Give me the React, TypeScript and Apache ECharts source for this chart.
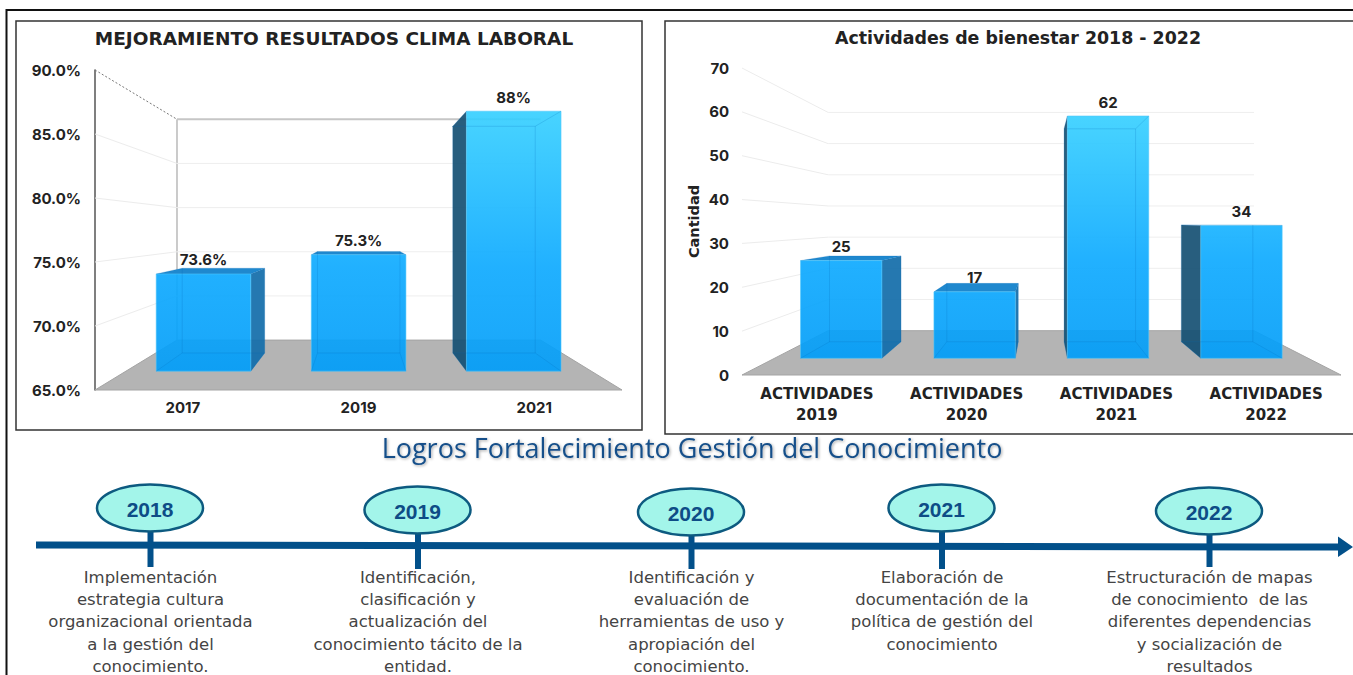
import React, { useEffect, useRef } from "react";
import * as echarts from "echarts";

const climaYears = ["2017", "2019", "2021"];
const climaValues = [73.6, 75.3, 88];
const climaLabels = ["73.6%", "75.3%", "88%"];
const climaTicks = [65, 70, 75, 80, 85, 90];
const climaTitle = "MEJORAMIENTO RESULTADOS CLIMA LABORAL";

const bienestarCats = ["ACTIVIDADES\n2019", "ACTIVIDADES\n2020", "ACTIVIDADES\n2021", "ACTIVIDADES\n2022"];
const bienestarValues = [25, 17, 62, 34];
const bienestarTicks = [0, 10, 20, 30, 40, 50, 60, 70];
const bienestarTitle = "Actividades de bienestar 2018 - 2022";
const bienestarAxisName = "Cantidad";

const logrosTitle = "Logros Fortalecimiento Gestión del Conocimiento";
const logrosYears = ["2018", "2019", "2020", "2021", "2022"];
const logrosTexts = [
  ["Implementación", "estrategia cultura", "organizacional orientada", "a la gestión del", "conocimiento."],
  ["Identificación,", "clasificación y", "actualización del", "conocimiento tácito de la", "entidad."],
  ["Identificación y", "evaluación de", "herramientas de uso y", "apropiación del", "conocimiento."],
  ["Elaboración de", "documentación de la", "política de gestión del", "conocimiento"],
  ["Estructuración de mapas", "de conocimiento  de las", "diferentes dependencias", "y socialización de", "resultados"],
];

const FONT = "Inter, 'Noto Sans', sans-serif";
const WIDE = "'DejaVu Sans', sans-serif";
const BODY = "'DejaVu Sans', sans-serif";
const INK = "#222222";

type Scene = {
  left: number; top: number; width: number; height: number;
  vx: number; vy: number; back: number; front: number; rear: number;
  barRatio: number; wallEdge: boolean; gradTop: number; gradBottom: number;
};

const climaScene: Scene = {
  left: 95, top: 70, width: 527, height: 320, vx: 359.5, vy: 229,
  back: 0.69, front: 0.883, rear: 0.77, barRatio: 0.61, wallEdge: true, gradTop: 111, gradBottom: 371,
};
const bienestarScene: Scene = {
  left: 742, top: 68, width: 599, height: 307, vx: 1040, vy: 221.7,
  back: 0.711, front: 0.891, rear: 0.783, barRatio: 0.61, wallEdge: false, gradTop: 116, gradBottom: 358,
};

function project(sc: Scene, x: number, y: number, s: number) {
  return [sc.vx + (x - sc.vx) * s, sc.vy + (y - sc.vy) * s];
}

function frameRenderer(sc: Scene, ticks: number[]) {
  return (_p: any, api: any) => {
    const tick = api.value(0);
    const y = api.coord([0, tick])[1];
    const xL = sc.left;
    const xR = sc.left + sc.width;
    const a = [xL, y];
    const b = project(sc, xL, y, sc.back);
    const c = project(sc, xR, y, sc.back);
    const children: any[] = [];
    const isTop = tick === ticks[ticks.length - 1];
    const isBottom = tick === ticks[0];
    if (isBottom) {
      const d = project(sc, xR, y, 1);
      children.push({
        type: "polygon",
        shape: { points: [a, d, c, b] },
        style: { fill: "#b4b4b4", stroke: "#a4a4a4", lineWidth: 1 },
      });
      if (sc.wallEdge) {
        const t = project(sc, xL, sc.top, sc.back);
        children.push({
          type: "line",
          shape: { x1: b[0], y1: b[1], x2: t[0], y2: t[1] },
          style: { stroke: "#b9b9b9", lineWidth: 1.5 },
        });
      }
    } else {
      const strong = isTop && sc.wallEdge;
      children.push({
        type: "line",
        shape: { x1: a[0], y1: a[1], x2: b[0], y2: b[1] },
        style: strong
          ? { stroke: "#777777", lineWidth: 1, lineDash: [2, 2] }
          : { stroke: "#ececec", lineWidth: 1 },
      });
      children.push({
        type: "line",
        shape: { x1: b[0], y1: b[1], x2: c[0], y2: c[1] },
        style: strong ? { stroke: "#c6c6c6", lineWidth: 2 } : { stroke: "#eeeeee", lineWidth: 1 },
      });
    }
    return { type: "group", children };
  };
}

function barRenderer(sc: Scene, labels: string[]) {
  return (p: any, api: any) => {
    const cat = api.value(0);
    const val = api.value(1);
    const [cx, yTop] = api.coord([cat, val]);
    const yBase = sc.top + sc.height;
    const half = (api.size([1, 0])[0] * sc.barRatio) / 2;
    const xl = cx - half;
    const xr = cx + half;
    const fTL = project(sc, xl, yTop, sc.front);
    const fTR = project(sc, xr, yTop, sc.front);
    const fBL = project(sc, xl, yBase, sc.front);
    const fBR = project(sc, xr, yBase, sc.front);
    const rTL = project(sc, xl, yTop, sc.rear);
    const rTR = project(sc, xr, yTop, sc.rear);
    const rBL = project(sc, xl, yBase, sc.rear);
    const rBR = project(sc, xr, yBase, sc.rear);
    const edge = { stroke: "rgba(0,105,185,0.2)", lineWidth: 1, fill: "none" };
    const children: any[] = [];
    children.push({ type: "polygon", shape: { points: [fBL, fBR, rBR, rBL] }, style: { fill: "rgba(0,140,230,0.25)" } });
    if (rTL[0] < fTL[0] - 1) {
      children.push({
        type: "polygon",
        shape: { points: [rTL, fTL, fBL, rBL] },
        style: { fill: "rgba(22,80,115,0.92)" },
      });
    }
    if (rTR[0] > fTR[0] + 1) {
      children.push({
        type: "polygon",
        shape: { points: [fTR, rTR, rBR, fBR] },
        style: { fill: "rgba(20,110,170,0.93)" },
      });
    }
    if (rTL[1] < fTL[1] - 0.5) {
      children.push({
        type: "polygon",
        shape: { points: [rTL, rTR, fTR, fTL] },
        style: { fill: "#1f88ce" },
      });
    }
    const grad = new echarts.graphic.LinearGradient(
      0, sc.gradTop, 0, sc.gradBottom,
      [
        { offset: 0, color: "rgba(56,208,255,0.92)" },
        { offset: 0.6, color: "rgba(14,170,255,0.92)" },
        { offset: 1, color: "rgba(4,158,248,0.92)" },
      ],
      true
    );
    children.push({
      type: "polygon",
      shape: { points: [fTL, fTR, fBR, fBL] },
      style: { fill: grad, stroke: "rgba(80,200,250,0.7)", lineWidth: 0.8 },
    });
    children.push({ type: "polygon", shape: { points: [rTL, rTR, rBR, rBL] }, style: edge });
    children.push({ type: "line", shape: { x1: fTL[0], y1: fTL[1], x2: rTL[0], y2: rTL[1] }, style: edge });
    children.push({ type: "line", shape: { x1: fTR[0], y1: fTR[1], x2: rTR[0], y2: rTR[1] }, style: edge });
    children.push({ type: "line", shape: { x1: fBL[0], y1: fBL[1], x2: rBL[0], y2: rBL[1] }, style: edge });
    children.push({ type: "line", shape: { x1: fBR[0], y1: fBR[1], x2: rBR[0], y2: rBR[1] }, style: edge });
    children.push({
      type: "text",
      style: {
        text: labels[p.dataIndex],
        x: (fTL[0] + fTR[0]) / 2,
        y: fTL[1] - 14,
        align: "center",
        verticalAlign: "middle",
        fill: INK,
        fontFamily: FONT,
        fontWeight: 700,
        fontSize: 15,
      },
    });
    return { type: "group", children };
  };
}

function timelineGraphics() {
  const centers = [150.5, 418, 691.5, 942, 1209.5];
  const ovalY = [508, 510, 512, 508, 511];
  const stemEnd = [567, 569, 569, 569, 567];
  const out: any[] = [
    {
      type: "polygon",
      shape: { points: [[36, 541.5], [1338, 543.5], [1338, 536.5], [1353, 547], [1338, 557], [1338, 550.5], [36, 548.5]] },
      style: { fill: "#02508a" },
    },
  ];
  logrosYears.forEach((yr, i) => {
    out.push({
      type: "rect",
      shape: { x: centers[i] - 3, y: ovalY[i] + 22, width: 6, height: stemEnd[i] - ovalY[i] - 22 },
      style: { fill: "#02508a" },
    });
    out.push({
      type: "ellipse",
      shape: { cx: centers[i] - 0.5, cy: ovalY[i], rx: 53, ry: 23.5 },
      style: { fill: "#a3f5ea", stroke: "#0d5a80", lineWidth: 2.5 },
    });
    out.push({
      type: "text",
      style: {
        text: yr,
        x: centers[i] - 0.5,
        y: ovalY[i] + 1,
        align: "center",
        verticalAlign: "middle",
        fill: "#0e4c86",
        fontFamily: "'Liberation Sans', Arial, sans-serif",
        fontWeight: 700,
        fontSize: 21,
      },
    });
    logrosTexts[i].forEach((line, j) => {
      out.push({
        type: "text",
        style: {
          text: line,
          x: centers[i],
          y: 577.5 + j * 22.2,
          align: "center",
          verticalAlign: "middle",
          fill: "#444444",
          fontFamily: BODY,
          fontSize: 16.5,
        },
      });
    });
  });
  return out;
}

export default function App() {
  const ref = useRef<HTMLDivElement>(null);
  useEffect(() => {
    document.body.style.margin = "0";
    document.body.style.background = "#ffffff";
    const chart = echarts.init(ref.current!, null, { renderer: "svg" });
    const axisLabel = { color: INK, fontFamily: FONT, fontWeight: 700, fontSize: 15 };
    const grid = (s: Scene) => ({ left: s.left, top: s.top, width: s.width, height: s.height });
    chart.setOption({
      animation: false,
      backgroundColor: "#ffffff",
      title: [
        {
          text: climaTitle, left: 329, top: 24, textAlign: "center",
          textStyle: { color: INK, fontFamily: WIDE, fontWeight: 700, fontSize: 18.5 },
        },
        {
          text: bienestarTitle, left: 1013, top: 24, textAlign: "center",
          textStyle: { color: INK, fontFamily: WIDE, fontWeight: 700, fontSize: 17.4 },
        },
      ],
      grid: [grid(climaScene), grid(bienestarScene)],
      xAxis: [
        {
          type: "category", gridIndex: 0, data: climaYears,
          axisLine: { show: false }, axisTick: { show: false },
          axisLabel: { ...axisLabel, margin: 10 },
        },
        {
          type: "category", gridIndex: 1, data: bienestarCats,
          axisLine: { show: false }, axisTick: { show: false },
          axisLabel: { ...axisLabel, fontFamily: WIDE, margin: 8, lineHeight: 21 },
        },
      ],
      yAxis: [
        {
          type: "value", gridIndex: 0, min: 65, max: 90, interval: 5,
          axisLine: { show: true, lineStyle: { color: "#555555", width: 1.5 } },
          axisTick: { show: false }, splitLine: { show: false },
          axisLabel: { ...axisLabel, margin: 14, formatter: (v: number) => v.toFixed(1) + "%" },
        },
        {
          type: "value", gridIndex: 1, min: 0, max: 70, interval: 10,
          name: bienestarAxisName, nameLocation: "middle", nameRotate: 90, nameGap: 41,
          nameTextStyle: { color: INK, fontFamily: WIDE, fontWeight: 700, fontSize: 14.5 },
          axisLine: { show: false }, axisTick: { show: false }, splitLine: { show: false },
          axisLabel: { ...axisLabel, margin: 13 },
        },
      ],
      series: [
        {
          type: "custom", xAxisIndex: 0, yAxisIndex: 0, z: 1, silent: true,
          renderItem: frameRenderer(climaScene, climaTicks),
          encode: { y: 0 },
          data: climaTicks.map((t) => [t]),
        },
        {
          type: "custom", xAxisIndex: 0, yAxisIndex: 0, z: 2, silent: true,
          renderItem: barRenderer(climaScene, climaLabels),
          encode: { x: 0, y: 1 },
          data: climaValues.map((v, i) => [i, v]),
        },
        {
          type: "custom", xAxisIndex: 1, yAxisIndex: 1, z: 1, silent: true,
          renderItem: frameRenderer(bienestarScene, bienestarTicks),
          encode: { y: 0 },
          data: bienestarTicks.map((t) => [t]),
        },
        {
          type: "custom", xAxisIndex: 1, yAxisIndex: 1, z: 2, silent: true,
          renderItem: barRenderer(bienestarScene, bienestarValues.map(String)),
          encode: { x: 0, y: 1 },
          data: bienestarValues.map((v, i) => [i, v]),
        },
      ],
      graphic: [
        {
          type: "polyline", silent: true,
          shape: { points: [[6.5, 676], [6.5, 10], [1354, 10]] },
          style: { stroke: "#111111", lineWidth: 2, fill: "none" },
        },
        {
          type: "rect", silent: true,
          shape: { x: 16, y: 21, width: 626, height: 409 },
          style: { stroke: "#333333", lineWidth: 1.5, fill: "none" },
        },
        {
          type: "rect", silent: true,
          shape: { x: 665, y: 21, width: 700, height: 413 },
          style: { stroke: "#333333", lineWidth: 1.5, fill: "none" },
        },
        {
          type: "text", silent: true,
          style: {
            text: logrosTitle, x: 692, y: 447, align: "center", verticalAlign: "middle",
            fill: "#17508a", fontFamily: "'Open Sans', sans-serif", fontSize: 27,
            textShadowColor: "rgba(0,0,0,0.35)", textShadowBlur: 3, textShadowOffsetX: 1, textShadowOffsetY: 1,
          },
        },
        ...timelineGraphics(),
      ],
    });
    return () => chart.dispose();
  }, []);
  return <div ref={ref} style={{ width: 1353, height: 675, overflow: "hidden" }} />;
}
